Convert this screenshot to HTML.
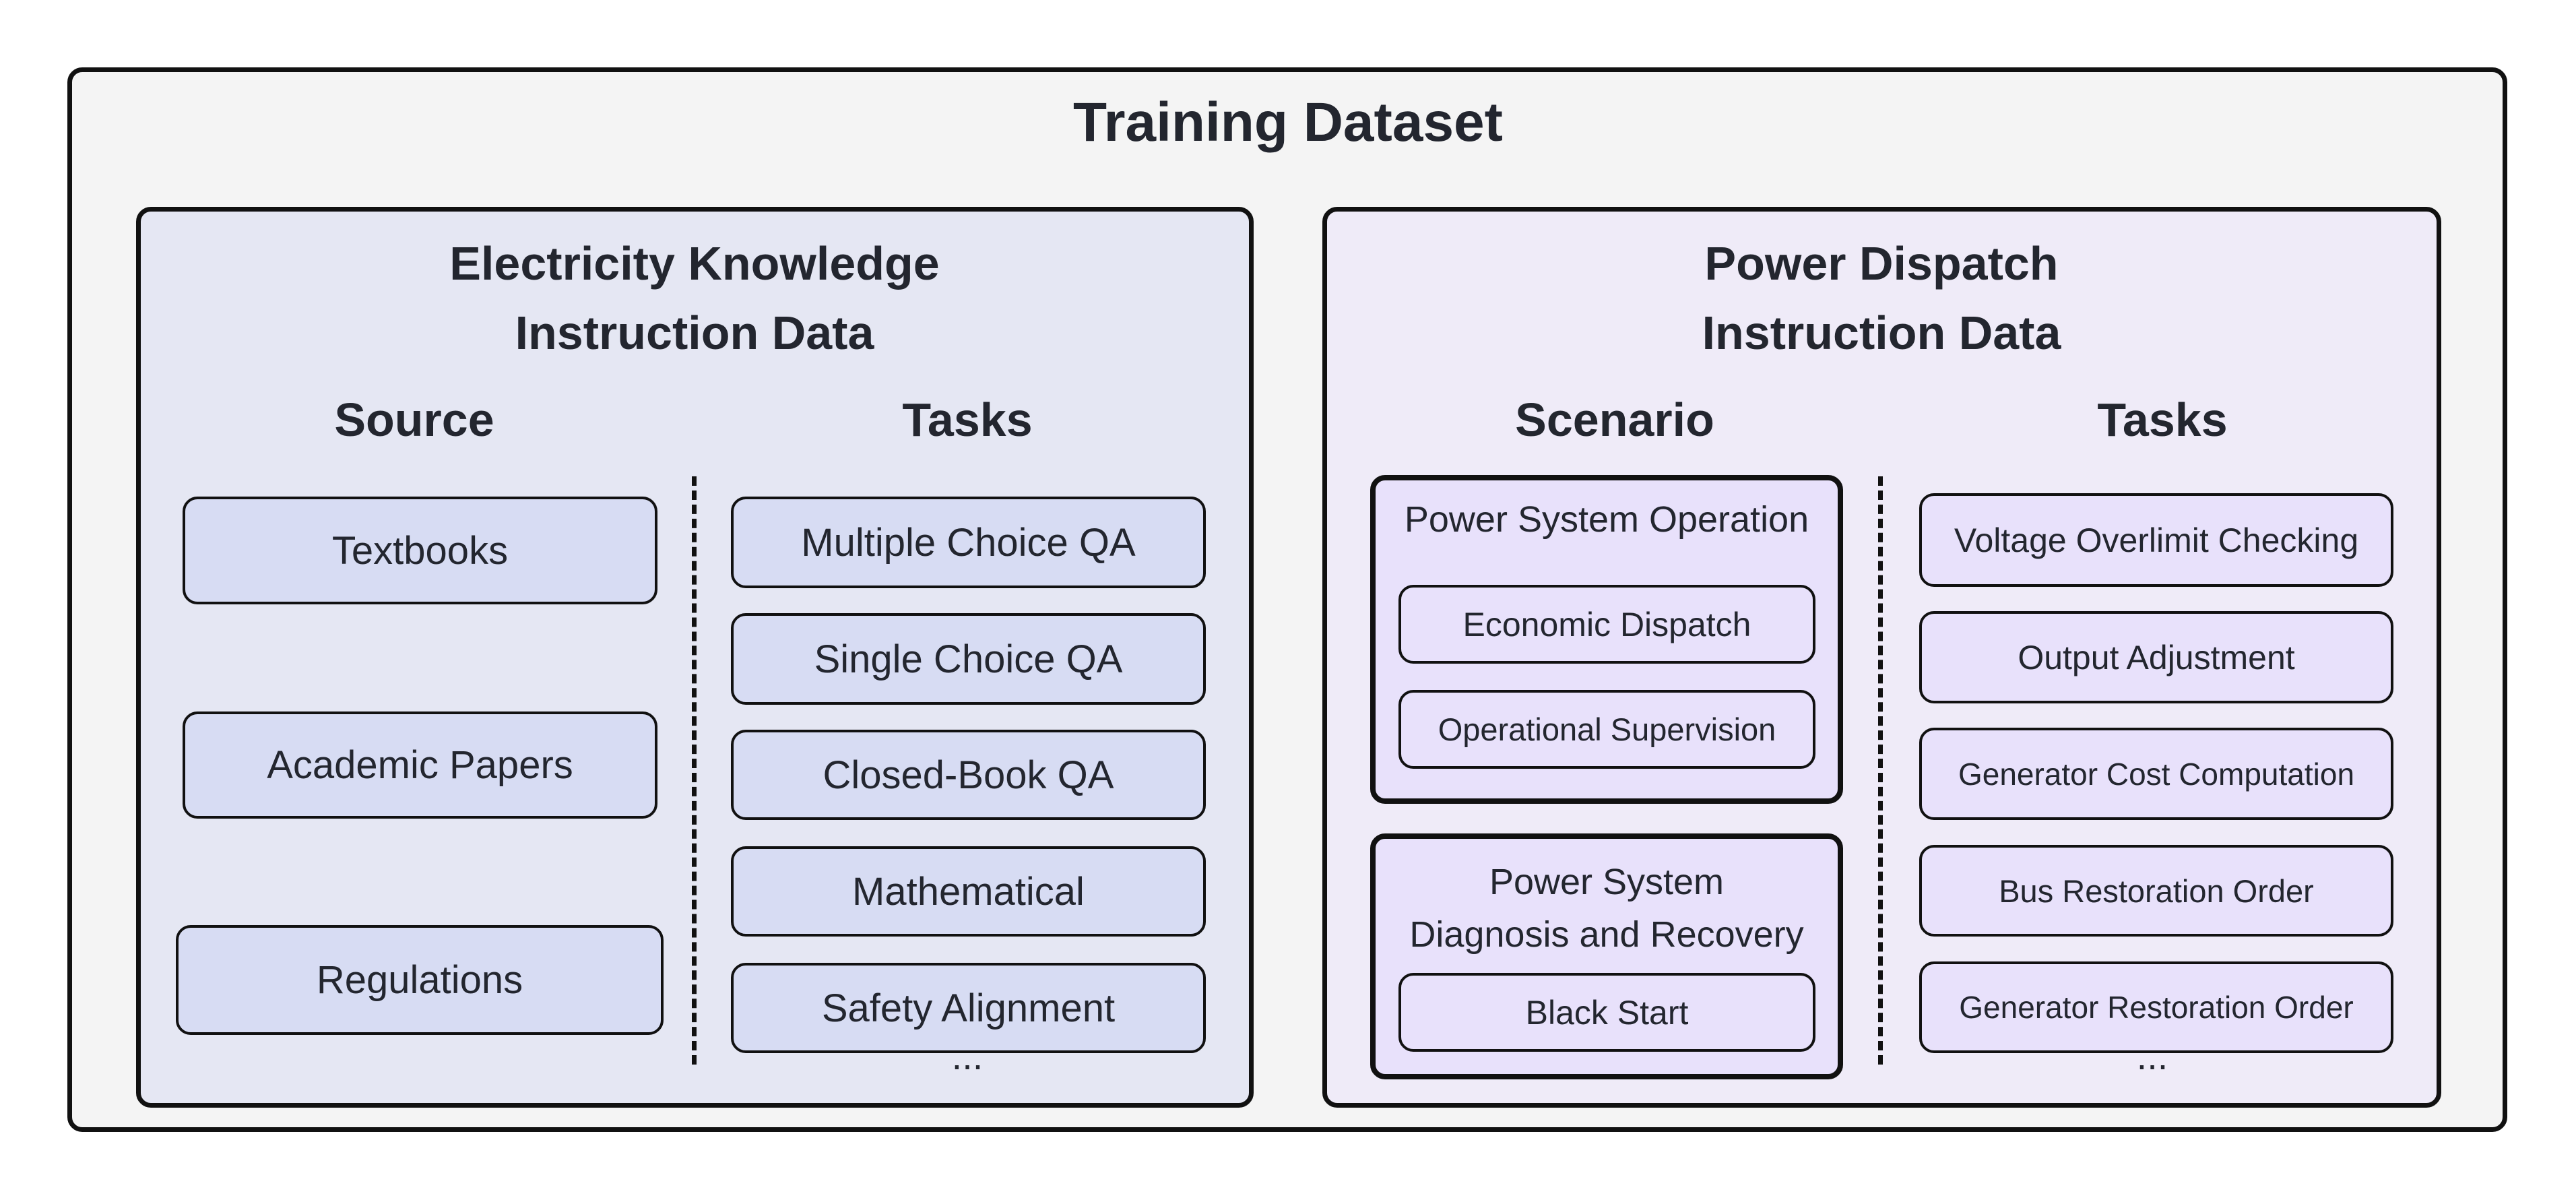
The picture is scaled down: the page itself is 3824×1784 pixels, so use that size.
<!DOCTYPE html>
<html><head><meta charset="utf-8"><style>
body{margin:0;width:3824px;height:1784px;background:#fff;position:relative;overflow:hidden;font-family:"Liberation Sans",sans-serif;color:#23262f}
.a{position:absolute;box-sizing:border-box;display:flex;align-items:center;justify-content:center;text-align:center}
.t{position:absolute;text-align:center;white-space:nowrap;transform:translateX(-50%)}
.b{font-weight:bold}
.lb{background:#d7dcf3;border:4px solid #111;border-radius:22px;font-size:58px}
.rb{background:#e8e1fb;border:4px solid #111;border-radius:22px;font-size:50px}
.dash{position:absolute;width:0;border-left:7px dashed #111}
</style></head><body>
<div class="a" style="left:100px;top:100px;width:3622px;height:1580px;background:#f4f4f4;border:7px solid #111;border-radius:22px"></div>
<div class="t b" style="left:1912px;top:135px;font-size:82px">Training Dataset</div>

<div class="a" style="left:202px;top:307px;width:1659px;height:1337px;background:#e5e7f3;border:7px solid #111;border-radius:22px"></div>
<div class="t b" style="left:1031px;top:340px;font-size:70px;line-height:103px">Electricity Knowledge<br>Instruction Data</div>
<div class="t b" style="left:615px;top:583px;font-size:70px">Source</div>
<div class="t b" style="left:1436px;top:583px;font-size:70px">Tasks</div>
<div class="a lb" style="left:271px;top:737px;width:705px;height:160px">Textbooks</div>
<div class="a lb" style="left:271px;top:1056px;width:705px;height:159px">Academic Papers</div>
<div class="a lb" style="left:261px;top:1373px;width:724px;height:163px">Regulations</div>
<div class="dash" style="left:1027px;top:707px;height:873px"></div>
<div class="a lb" style="left:1085px;top:737px;width:705px;height:136px">Multiple Choice QA</div>
<div class="a lb" style="left:1085px;top:910px;width:705px;height:136px">Single Choice QA</div>
<div class="a lb" style="left:1085px;top:1083px;width:705px;height:134px">Closed-Book QA</div>
<div class="a lb" style="left:1085px;top:1256px;width:705px;height:134px">Mathematical</div>
<div class="a lb" style="left:1085px;top:1429px;width:705px;height:134px">Safety Alignment</div>
<div class="t" style="left:1436px;top:1535px;font-size:56px">...</div>

<div class="a" style="left:1963px;top:307px;width:1661px;height:1337px;background:#efebf8;border:7px solid #111;border-radius:22px"></div>
<div class="t b" style="left:2793px;top:340px;font-size:70px;line-height:103px">Power Dispatch<br>Instruction Data</div>
<div class="t b" style="left:2397px;top:583px;font-size:70px">Scenario</div>
<div class="t b" style="left:3210px;top:583px;font-size:70px">Tasks</div>
<div class="a" style="left:2034px;top:705px;width:702px;height:488px;background:#e8e1fb;border:8px solid #111;border-radius:22px"></div>
<div class="t" style="left:2385px;top:740px;font-size:54px">Power System Operation</div>
<div class="a rb" style="left:2076px;top:868px;width:619px;height:117px">Economic Dispatch</div>
<div class="a rb" style="left:2076px;top:1024px;width:619px;height:117px;font-size:47px">Operational Supervision</div>
<div class="a" style="left:2034px;top:1237px;width:702px;height:365px;background:#e8e1fb;border:8px solid #111;border-radius:22px"></div>
<div class="t" style="left:2385px;top:1270px;font-size:54px;line-height:78px">Power System<br>Diagnosis and Recovery</div>
<div class="a rb" style="left:2076px;top:1444px;width:619px;height:117px">Black Start</div>
<div class="dash" style="left:2788px;top:707px;height:873px"></div>
<div class="a rb" style="left:2849px;top:732px;width:704px;height:139px;font-size:50px">Voltage Overlimit Checking</div>
<div class="a rb" style="left:2849px;top:907px;width:704px;height:137px">Output Adjustment</div>
<div class="a rb" style="left:2849px;top:1080px;width:704px;height:137px;font-size:46px">Generator Cost Computation</div>
<div class="a rb" style="left:2849px;top:1254px;width:704px;height:136px;font-size:47px">Bus Restoration Order</div>
<div class="a rb" style="left:2849px;top:1427px;width:704px;height:136px;font-size:46px">Generator Restoration Order</div>
<div class="t" style="left:3195px;top:1535px;font-size:56px">...</div>
</body></html>
